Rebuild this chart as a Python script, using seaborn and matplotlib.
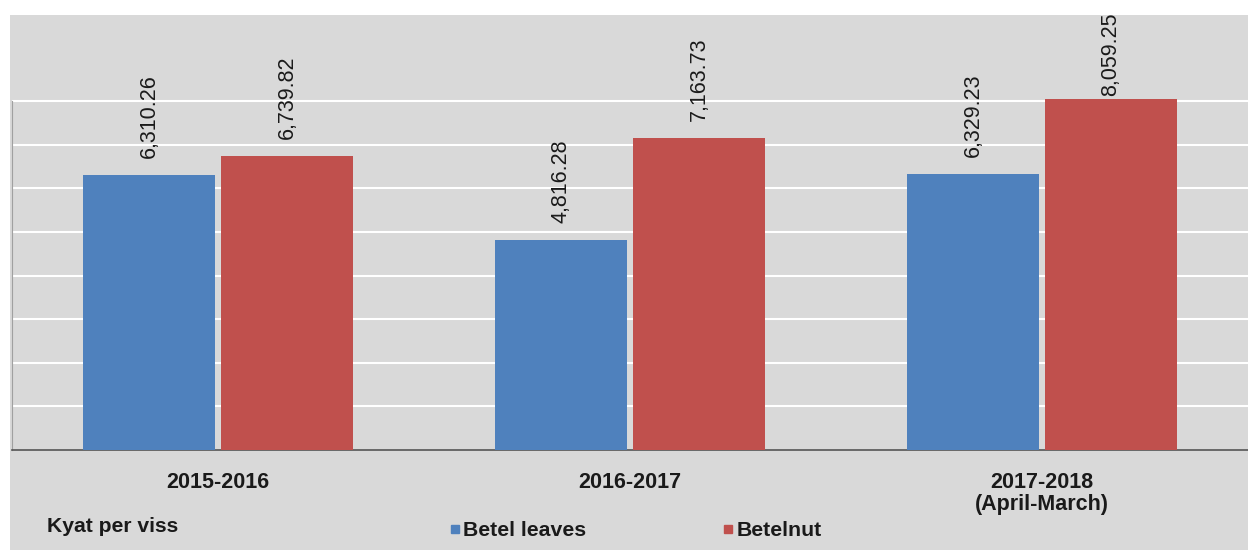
import pandas as pd
import numpy as np
import seaborn as sns
import matplotlib.pyplot as plt
from matplotlib.patches import Rectangle
from matplotlib.lines import Line2D

# Datos
years = ['2015-2016', '2016-2017', '2017-2018\n(April-March)']
betel_leaves = [6310.26, 4816.28, 6329.23]
betelnut = [6739.82, 7163.73, 8059.25]
series = ['Betel leaves', 'Betelnut']
colors = ['#4f81bd', '#c0504d']
BG = '#d9d9d9'

df = pd.DataFrame({
    'year': years * 2,
    'price': betel_leaves + betelnut,
    'product': [series[0]] * 3 + [series[1]] * 3,
})

sns.set_style('white')
plt.rcParams['font.family'] = ['Liberation Sans', 'DejaVu Sans']

W, H = 1248, 550
fig = plt.figure(figsize=(W / 100, H / 100), dpi=100, facecolor='white')
# fondo gris del area del grafico
fig.patches.append(Rectangle((10 / W, 0), 1 - 10 / W, (H - 15) / H,
                             transform=fig.transFigure, facecolor=BG,
                             edgecolor='none', zorder=-10))

ax = fig.add_axes([12 / W, 100 / H, 1 - 12 / W, 435 / H])
ax.set_facecolor('none')

sns.barplot(data=df, x='year', y='price', hue='product', palette=colors,
            width=0.67, gap=0.05, saturation=1, linewidth=0,
            legend=False, ax=ax, zorder=3)

ymax = 9977
ax.set_ylim(0, ymax)
ax.set_xlim(-0.5, 2.5)
ax.set_yticks(np.arange(1000, 9000, 1000))
ax.yaxis.grid(True, color='white', linewidth=1.5, zorder=1)
ax.set_axisbelow(True)
ax.tick_params(axis='y', length=0, labelleft=False)
ax.set_xlabel('')
ax.set_ylabel('')

for s in ['top', 'right']:
    ax.spines[s].set_visible(False)
ax.spines['left'].set_bounds(0, 8000)
ax.spines['left'].set_color('#a0a0a0')
ax.spines['bottom'].set_color('#555555')
ax.spines['bottom'].set_linewidth(1.2)

ax.set_xticks([0, 1, 2])
ax.set_xticklabels(years, fontsize=15.5, fontweight='bold', color='#1a1a1a',
                   linespacing=1.05)
ax.tick_params(axis='x', which='major', length=0, pad=16)
ax.set_xticks([0.5, 1.5], minor=True)
ax.tick_params(axis='x', which='minor', length=5, width=1, color='#333333',
               direction='out')

# etiquetas de valor rotadas
px_per_unit = 435 / ymax
for bar in ax.patches:
    h = bar.get_height()
    if h <= 0:
        continue
    room = (ymax - h) * px_per_unit - 78 - 7
    pad = max(2, min(12, room * 0.72))
    ax.annotate(f'{h:,.2f}', (bar.get_x() + bar.get_width() / 2, h),
                xytext=(0, pad), textcoords='offset points',
                rotation=90, ha='center', va='bottom', fontsize=15.5,
                color='#1a1a1a', annotation_clip=False)

fig.text(47 / W, 1 - 526 / H, 'Kyat per viss', fontsize=15.2,
         fontweight='bold', color='#1a1a1a', va='center', ha='left')

handles = [Line2D([], [], marker='s', linestyle='none', markersize=6,
                  color=c) for c in colors]
leg = fig.legend(handles, series, loc='center left',
                 bbox_to_anchor=(441 / W, 1 - 531 / H), ncol=2, frameon=False,
                 prop={'size': 15.3, 'weight': 'bold'}, handlelength=0.5,
                 handletextpad=0.15, columnspacing=6.4, borderaxespad=0)
for t in leg.get_texts():
    t.set_color('#1a1a1a')

fig.savefig('out.png', dpi=100, facecolor='white')
